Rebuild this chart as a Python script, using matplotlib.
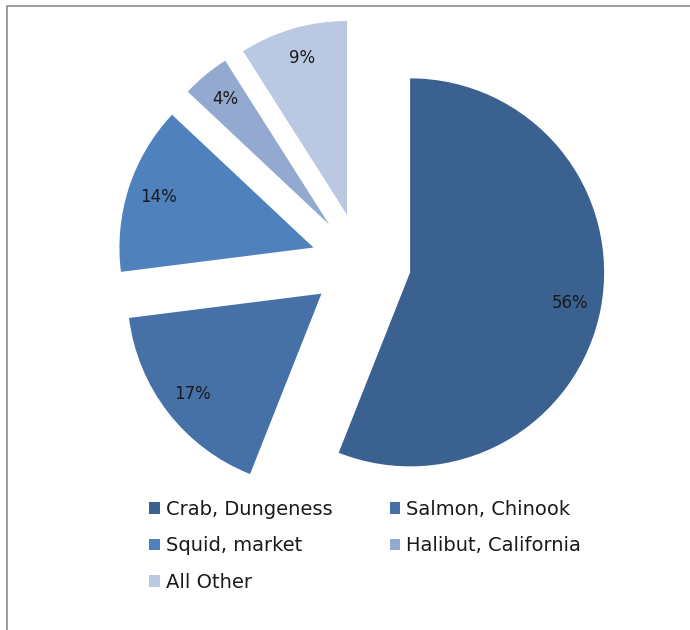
import matplotlib
matplotlib.use("Agg")
import matplotlib.pyplot as plt
from matplotlib.patches import Rectangle, Patch

plt.rcParams['font.family'] = ['DejaVu Sans']

# data
species = ['Crab, Dungeness', 'Salmon, Chinook', 'Squid, market',
           'Halibut, California', 'All Other']
shares = [56, 17, 14, 4, 9]
colors = ['#3b6190', '#4571a7', '#4f81bd', '#94a9d0', '#bac8e2']

fig = plt.figure(figsize=(6.9, 6.3), dpi=100)
ax = fig.add_axes([0, 0, 1, 1])

# pie in pixel-like data units
wedges, texts, autotexts = ax.pie(
    shares, colors=colors, startangle=90, counterclock=False,
    center=(361, 367), radius=194, explode=[50] * len(shares),
    autopct='%.0f%%', pctdistance=0.84, frame=True,
    wedgeprops=dict(linewidth=0),
    textprops=dict(fontsize=12, color='#1a1a1a'))
ax.set_xlim(0, 690)
ax.set_ylim(0, 630)
ax.set_aspect('equal')
ax.axis('off')

# legend below, filled row by row like the original
order = [0, 2, 4, 1, 3]
handles = [Patch(facecolor=colors[i], edgecolor='none') for i in order]
labels = [species[i] for i in order]
fig.legend(handles, labels, loc='upper left', bbox_to_anchor=(0.205, 0.219),
           ncol=2, frameon=False, fontsize=14, handlelength=0.55,
           handleheight=0.55, handletextpad=0.3, columnspacing=2.95,
           labelspacing=0.9, labelcolor='#1a1a1a', borderaxespad=0)

# outer frame (left and top edges visible)
fig.add_artist(Rectangle((7 / 690, -0.1), 1.2, 1.1 - 6 / 630,
                         transform=fig.transFigure, fill=False,
                         edgecolor='#8c8c8c', linewidth=1.2))

fig.savefig('out.png', dpi=100)
plt.close(fig)
